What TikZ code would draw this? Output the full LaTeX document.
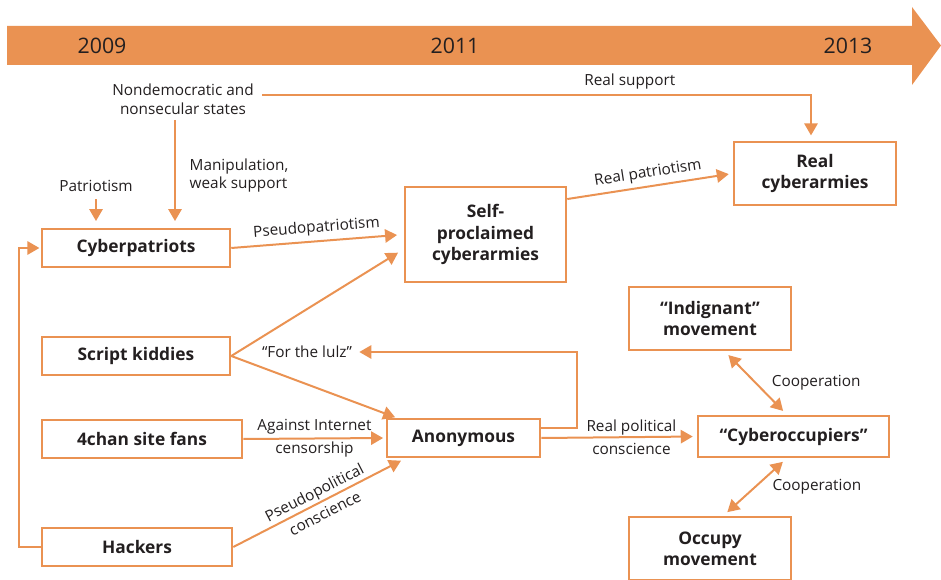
\documentclass[tikz,border=0pt]{standalone}
\usepackage{fontspec}
\setmainfont{Open Sans}
\usetikzlibrary{arrows.meta}
\definecolor{tlorange}{RGB}{234,146,82}
\definecolor{txtgray}{RGB}{35,31,32}
\tikzset{
  actor/.style={draw=tlorange, line width=1.9pt, text=txtgray, align=center,
    font=\bfseries\fontsize{13}{16}\selectfont, inner sep=0pt},
  link/.style={draw=tlorange, line width=1.5pt, -{Triangle[length=9pt,width=10pt]}},
  twoway/.style={link, {Triangle[length=9pt,width=10pt]}-{Triangle[length=9pt,width=10pt]}},
  tag/.style={text=txtgray, align=center, font=\fontsize{11.5}{14}\selectfont},
  ontag/.style={tag, font=\fontsize{11.5}{17.5}\selectfont},
  year/.style={text=txtgray, font=\fontsize{16}{18}\selectfont},
}
\begin{document}
\begin{tikzpicture}[x=0.75pt,y=-0.75pt]
  \useasboundingbox (0,0) rectangle (941,580);

  % time line
  \fill[tlorange] (7,26) -- (912,26) -- (912,7) -- (941,45.5) -- (912,85)
    -- (912,65) -- (7,65) -- cycle;
  \node[year] (y09) at (102,45.5) {2009};
  \node[year] (y11) at (455,45.5) {2011};
  \node[year] (y13) at (848,45.5) {2013};

  % actors
  \node[actor, minimum width=141pt, minimum height=28.5pt] (cpat) at (136,248) {Cyberpatriots};
  \node[actor, minimum width=120.75pt, minimum height=71.25pt] (selfc) at (485.5,234.5) {Self-\\proclaimed\\cyberarmies};
  \node[actor, minimum width=121.5pt, minimum height=47.25pt] (realc) at (815,173.5) {Real\\cyberarmies};
  \node[actor, minimum width=141pt, minimum height=28.5pt] (skid) at (136,356) {Script kiddies};
  \node[actor, minimum width=150pt, minimum height=28.5pt] (chan) at (142,439) {4chan site fans};
  \node[actor, minimum width=142.5pt, minimum height=28.5pt] (hack) at (137,547) {Hackers};
  \node[actor, minimum width=114.75pt, minimum height=28.5pt] (anon) at (463.5,438) {Anonymous};
  \node[actor, minimum width=121.5pt, minimum height=47.25pt] (indig) at (710,318.5) {“Indignant”\\movement};
  \node[actor, minimum width=143.25pt, minimum height=30.75pt] (cocc) at (793.5,436.5) {“Cyberoccupiers”};
  \node[actor, minimum width=121.5pt, minimum height=47.25pt] (occ) at (710,548.5) {Occupy\\movement};

  % free labels
  \node[tag] (states) at (183,99) {Nondemocratic and\\nonsecular states};
  \node[tag, align=left, anchor=west] (manip) at (185,175.5) {Manipulation,\\weak support};
  \node[tag] (patr) at (96,186) {Patriotism};
  \node[tag] (lulz) at (307,352) {“For the lulz”};
  \coordinate (supportstart) at (262,95);
  \coordinate (manipstart) at (175,120);
  \coordinate (lulzturn) at (577,352);

  % connectors
  \draw[link, shorten >=4pt] (supportstart) -| node[tag, above, pos=0.335] {Real support} ([xshift=-3pt]realc.north);
  \draw[link, shorten >=5pt] (manipstart) -- (manipstart |- cpat.north);
  \draw[link, shorten <=2pt, shorten >=5pt] (patr.south) -- (patr.south |- cpat.north);
  \draw[link, shorten >=5pt] (cpat.east) -- node[tag, above, sloped] {Pseudopatriotism} (selfc.west);
  \draw[link, shorten >=5pt] (skid.east) -- ([yshift=-11pt]selfc.west);
  \draw[link, shorten >=1pt] (skid.east) -- ([xshift=8pt]anon.north west);
  \draw[link, shorten >=2pt] (chan.east) -- node[ontag] {Against Internet\\censorship} (anon.west);
  \draw[link, shorten >=4pt] (hack.east) -- node[ontag, sloped] {Pseudopolitical\\conscience} ([xshift=15pt]anon.south west);
  \draw[link, shorten >=2pt] ([yshift=7.5pt]anon.east) -| (lulzturn) -- (lulz.east);
  \draw[link, shorten >=3pt] (anon.east) -- node[ontag, pos=0.58] {Real political\\conscience} (cocc.west);
  \draw[link, shorten >=3pt] ([yshift=26.6pt]selfc.east) -- node[tag, above, sloped] {Real patriotism} (realc.west);
  \draw[twoway, shorten <=4pt, shorten >=4pt] ([xshift=11pt]indig.south) -- node[tag, anchor=west, xshift=8pt] {Cooperation} ([xshift=-5pt]cocc.north);
  \draw[twoway, shorten <=4pt, shorten >=4pt] ([xshift=-5pt]cocc.south) -- node[tag, anchor=west, xshift=9pt] {Cooperation} ([xshift=10pt]occ.north);
  \draw[link] (hack.west) -- ++(-22,0) |- ([xshift=-1pt]cpat.west);
\end{tikzpicture}
\end{document}
